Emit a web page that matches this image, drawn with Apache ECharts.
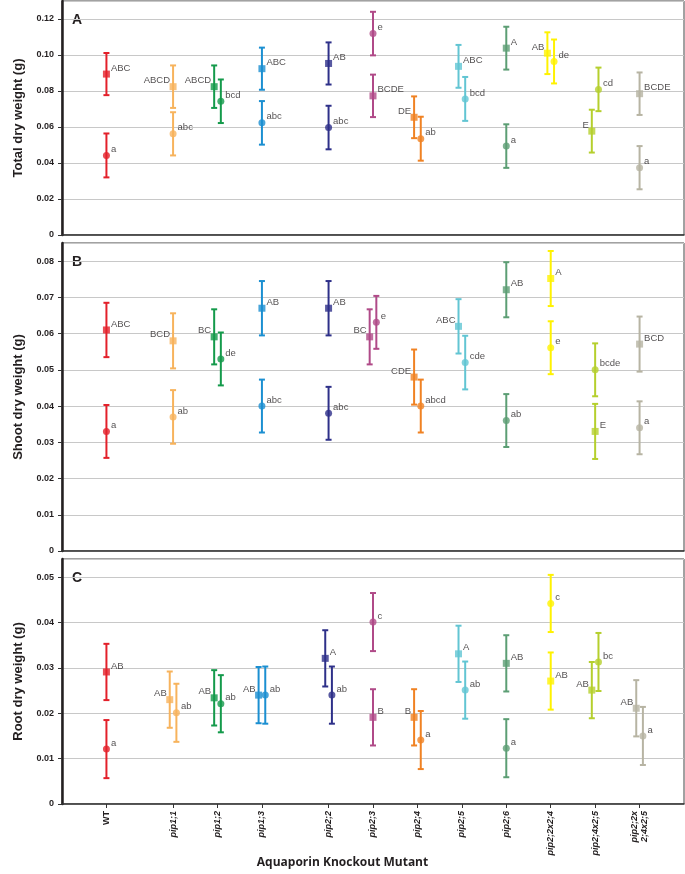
<!DOCTYPE html>
<html>
<head>
<meta charset="utf-8">
<script src="https://cdn.jsdelivr.net/npm/echarts@6/dist/echarts.min.js"></script>
<style>
  html, body { margin: 0; padding: 0; background: #fff; }
  #chart { width: 685px; height: 874px; }
</style>
</head>
<body>
<div id="chart"></div>
<script>
// genotypes, in plotting order
const categories = ['WT', 'pip1;1', 'pip1;2', 'pip1;3', 'pip2;2', 'pip2;3', 'pip2;4', 'pip2;5', 'pip2;6', 'pip2;2x2;4', 'pip2;4x2;5', 'pip2;2x2;4x2;5'];
const tickNames = ['WT', 'pip1;1', 'pip1;2', 'pip1;3', 'pip2;2', 'pip2;3', 'pip2;4', 'pip2;5', 'pip2;6', 'pip2;2x2;4', 'pip2;4x2;5', 'pip2;2x\n2;4x2;5'];
const familyGroup = [0, 1, 1, 1, 2, 2, 2, 2, 2, 2, 2, 2];

// A - total dry weight (g)
const totalSquare   = [0.0894, 0.0824, 0.0824, 0.0924, 0.0953, 0.0773, 0.0654, 0.0937, 0.1038, 0.1010, 0.0577, 0.0785];
const totalSquareSE = [0.0117, 0.0118, 0.0118, 0.0117, 0.0117, 0.0118, 0.0116, 0.0119, 0.0119, 0.0116, 0.0119, 0.0118];
const totalCircle   = [0.0442, 0.0562, 0.0743, 0.0623, 0.0597, 0.1119, 0.0535, 0.0756, 0.0494, 0.0964, 0.0809, 0.0374];
const totalCircleSE = [0.0122, 0.0120, 0.0121, 0.0121, 0.0121, 0.0121, 0.0122, 0.0122, 0.0121, 0.0122, 0.0121, 0.0120];
const totalSquareLetters = ['ABC', 'ABCD', 'ABCD', 'ABC', 'AB', 'BCDE', 'DE', 'ABC', 'A', 'AB', 'E', 'BCDE'];
const totalCircleLetters = ['a', 'abc', 'bcd', 'abc', 'abc', 'e', 'ab', 'bcd', 'a', 'de', 'cd', 'a'];

// B - shoot dry weight (g)
const shootSquare   = [0.0610, 0.0580, 0.0591, 0.0670, 0.0670, 0.0591, 0.0480, 0.0620, 0.0721, 0.0752, 0.0330, 0.0571];
const shootSquareSE = [0.0075, 0.0076, 0.0076, 0.0075, 0.0075, 0.0076, 0.0076, 0.0075, 0.0076, 0.0076, 0.0076, 0.0076];
const shootCircle   = [0.0330, 0.0370, 0.0530, 0.0400, 0.0380, 0.0631, 0.0400, 0.0520, 0.0360, 0.0561, 0.0500, 0.0340];
const shootCircleSE = [0.0073, 0.0074, 0.0073, 0.0073, 0.0073, 0.0073, 0.0073, 0.0074, 0.0073, 0.0073, 0.0073, 0.0073];
const shootSquareLetters = ['ABC', 'BCD', 'BC', 'AB', 'AB', 'BC', 'CDE', 'ABC', 'AB', 'A', 'E', 'BCD'];
const shootCircleLetters = ['a', 'ab', 'de', 'abc', 'abc', 'e', 'abcd', 'cde', 'ab', 'e', 'bcde', 'a'];

// C - root dry weight (g)
const rootSquare   = [0.0291, 0.0230, 0.0234, 0.0240, 0.0321, 0.0191, 0.0191, 0.0331, 0.0310, 0.0271, 0.0251, 0.0211];
const rootSquareSE = [0.0062, 0.0062, 0.0061, 0.0062, 0.0062, 0.0062, 0.0062, 0.0062, 0.0062, 0.0063, 0.0062, 0.0062];
const rootCircle   = [0.0121, 0.0201, 0.0221, 0.0240, 0.0240, 0.0401, 0.0141, 0.0251, 0.0123, 0.0442, 0.0313, 0.0150];
const rootCircleSE = [0.0064, 0.0064, 0.0063, 0.0063, 0.0063, 0.0064, 0.0064, 0.0063, 0.0064, 0.0063, 0.0064, 0.0064];
const rootSquareLetters = ['AB', 'AB', 'AB', 'AB', 'A', 'B', 'B', 'A', 'AB', 'AB', 'AB', 'AB'];
const rootCircleLetters = ['a', 'ab', 'ab', 'ab', 'ab', 'c', 'a', 'ab', 'a', 'c', 'bc', 'a'];

const colors = ['#e3202a', '#f7b35c', '#149a4b', '#1b8fd1', '#2e3089', '#b04a88', '#f08223', '#62c5d3', '#5c9e74', '#fff200', '#b5cf2d', '#b7b4a3'];

// layout: which pairs are nudged apart, which square letters sit on the left
const panels = [
  { tag: 'A', name: 'Total dry weight (g)', sq: totalSquare, sqSE: totalSquareSE, ci: totalCircle, ciSE: totalCircleSE,
    sqL: totalSquareLetters, ciL: totalCircleLetters, max: 0.13, interval: 0.02, top: 1, height: 234,
    dodge: [0,0,1,0,0,0,1,1,0,1,1,0], leftSq: [0,1,1,0,0,0,1,0,0,1,1,0] },
  { tag: 'B', name: 'Shoot dry weight (g)', sq: shootSquare, sqSE: shootSquareSE, ci: shootCircle, ciSE: shootCircleSE,
    sqL: shootSquareLetters, ciL: shootCircleLetters, max: 0.085, interval: 0.01, top: 243, height: 308,
    dodge: [0,0,1,0,0,1,1,1,0,0,0,0], leftSq: [0,1,1,0,0,1,1,1,0,0,0,0] },
  { tag: 'C', name: 'Root dry weight (g)', sq: rootSquare, sqSE: rootSquareSE, ci: rootCircle, ciSE: rootCircleSE,
    sqL: rootSquareLetters, ciL: rootCircleLetters, max: 0.054, interval: 0.01, top: 559, height: 245,
    dodge: [0,1,1,1,1,0,1,1,0,0,1,1], leftSq: [0,1,1,1,0,0,1,0,0,0,1,1] },
];

const xPos = categories.map((c, i) => i + 0.5 * familyGroup[i]);
const nudge = 0.075;
const FONT = '"Liberation Sans", Arial, sans-serif';

function renderErr(params, api) {
  const x = api.value(0);
  const top = api.coord([x, api.value(2)]);
  const bot = api.coord([x, api.value(1)]);
  const style = { stroke: colors[api.value(3)], lineWidth: 2 };
  const w = 3;
  return {
    type: 'group',
    children: [
      { type: 'line', shape: { x1: top[0], y1: top[1], x2: bot[0], y2: bot[1] }, style },
      { type: 'line', shape: { x1: top[0] - w, y1: top[1], x2: top[0] + w, y2: top[1] }, style },
      { type: 'line', shape: { x1: bot[0] - w, y1: bot[1], x2: bot[0] + w, y2: bot[1] }, style },
    ],
  };
}

const grids = [], xAxes = [], yAxes = [], series = [], graphics = [];

panels.forEach((p, k) => {
  const last = k === panels.length - 1;
  grids.push({ left: 62, right: 1, top: p.top, height: p.height, show: true, borderColor: '#444', borderWidth: 1 });
  xAxes.push({
    type: 'value', gridIndex: k, min: -1, max: 13,
    splitLine: { show: false },
    axisLine: { show: true, onZero: false, lineStyle: { color: '#333', width: 1.5 } },
    axisTick: last ? { show: true, customValues: xPos, length: 4, lineStyle: { color: '#333' } } : { show: false },
    axisLabel: last ? {
      show: true, customValues: xPos, rotate: 90, margin: 7,
      formatter: v => {
        const i = xPos.findIndex(x => Math.abs(x - v) < 1e-6);
        if (i < 0) return '';
        const style = i === 0 ? 'n' : 'it';
        return tickNames[i].split('\n').map(s => '{' + style + '|' + s + '}').join('\n');
      },
      rich: {
        it: { fontFamily: FONT, fontSize: 9, fontWeight: 'bold', fontStyle: 'italic', color: '#231f20', lineHeight: 10 },
        n: { fontFamily: FONT, fontSize: 9, fontWeight: 'bold', color: '#231f20' },
      },
    } : { show: false },
  });
  yAxes.push({
    type: 'value', gridIndex: k, min: 0, max: p.max, interval: p.interval,
    name: p.name, nameLocation: 'middle', nameGap: 37,
    nameTextStyle: { fontFamily: FONT, fontSize: 13, fontWeight: 'bold', color: '#231f20' },
    axisLine: { show: true, onZero: false, lineStyle: { color: '#231f20', width: 2.5 } },
    axisTick: { show: true, length: 4, lineStyle: { color: '#333', width: 1 } },
    axisLabel: {
      showMaxLabel: false, margin: 8, fontFamily: FONT, fontSize: 9, fontWeight: 'bold', color: '#231f20',
      formatter: v => (v === 0 ? '0' : v.toFixed(2)),
    },
    splitLine: { show: true, lineStyle: { color: '#c8c8c8', width: 1.2 } },
  });

  const errData = [], sqData = [], ciData = [];
  categories.forEach((c, i) => {
    const xs = xPos[i] - (p.dodge[i] ? nudge : 0);
    const xc = xPos[i] + (p.dodge[i] ? nudge : 0);
    errData.push([xs, p.sq[i] - p.sqSE[i], p.sq[i] + p.sqSE[i], i]);
    errData.push([xc, p.ci[i] - p.ciSE[i], p.ci[i] + p.ciSE[i], i]);
    const left = p.leftSq[i] === 1;
    sqData.push({
      value: [xs, p.sq[i]], itemStyle: { color: colors[i] },
      label: { formatter: p.sqL[i], position: left ? 'left' : 'right', offset: left ? [1.5, -6] : [0, -6] },
    });
    ciData.push({
      value: [xc, p.ci[i]], itemStyle: { color: colors[i] },
      label: { formatter: p.ciL[i], position: 'right', offset: [0, -6] },
    });
  });

  const labelBase = { show: true, distance: 1, fontFamily: FONT, fontSize: 9.5, color: '#231f20' };
  series.push({
    type: 'custom', xAxisIndex: k, yAxisIndex: k, renderItem: renderErr,
    encode: { x: 0, y: [1, 2] }, data: errData, z: 2, silent: true,
  });
  series.push({
    type: 'scatter', xAxisIndex: k, yAxisIndex: k, symbol: 'rect', symbolSize: 7,
    data: sqData, label: labelBase, z: 3, silent: true,
  });
  series.push({
    type: 'scatter', xAxisIndex: k, yAxisIndex: k, symbol: 'circle', symbolSize: 7,
    data: ciData, label: labelBase, z: 3, silent: true,
  });

  graphics.push({
    type: 'text', left: 72, top: p.top + 12,
    style: { text: p.tag, font: 'bold 14px ' + FONT, fill: '#231f20' },
  });
});

graphics.push({
  type: 'text', left: 'center', top: 857,
  style: { text: 'Aquaporin Knockout Mutant', font: 'bold 12px "Open Sans", sans-serif', fill: '#231f20' },
});

const chart = echarts.init(document.getElementById('chart'));
chart.setOption({
  animation: false,
  grid: grids,
  xAxis: xAxes,
  yAxis: yAxes,
  series,
  graphic: graphics,
});
window.addEventListener('resize', () => chart.resize());
</script>
</body>
</html>
